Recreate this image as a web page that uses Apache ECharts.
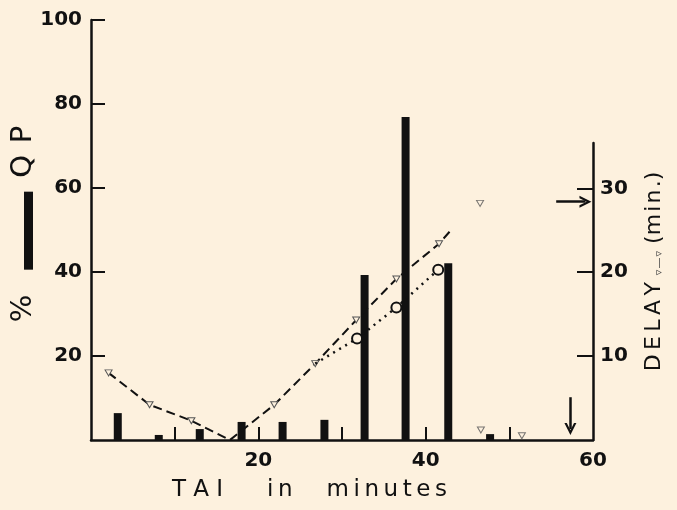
<!DOCTYPE html>
<html><head><meta charset="utf-8">
<script src="https://cdn.jsdelivr.net/npm/echarts@6/dist/echarts.min.js"></script>
<style>html,body{margin:0;padding:0;background:#FDF1DE;} #c{width:677px;height:510px;}</style>
</head><body><div id="c"></div>
<script>
// ---- data ----
const barMinutes   = [3.2, 8.1, 13.0, 18.0, 22.9, 27.9, 32.7, 37.6, 42.7, 47.7];
const barPercentQP = [6.4, 1.2, 2.6, 4.3, 4.3, 4.8, 39.3, 76.9, 42.1, 1.4];

const delayMinutes = [2.1, 7.0, 12.0, 16.6, 21.9, 26.8, 31.7, 36.5, 41.6, 43.1];
const delayValues  = [8.0, 4.2, 2.3, 0.0, 4.2, 9.1, 14.3, 19.2, 23.4, 25.1];
const delayMarked  = [true, true, true, false, true, true, true, true, true, false];

const looseMinutes = [46.5, 46.6, 51.5];
const looseDelay   = [28.2, 1.2, 0.5];

const circleMinutes = [26.8, 31.8, 36.5, 41.5];
const circleDelay   = [9.1, 12.1, 15.8, 20.3];
const circleMarked  = [false, true, true, true];

const leftTicks  = [20, 40, 60, 80, 100];
const rightTicks = [10, 20, 30];
const xLabels    = [20, 40, 60];
const xTicks     = [10, 20, 30, 40, 50];

const arrowHFrom = [55.6, 28.4], arrowHTo = [59.1, 28.4];
const arrowVFrom = [57.3, 5.1],  arrowVTo = [57.3, 1.3];

// ---- chart ----
const INK = '#111';
const BG = '#FDF1DE';
const TS = '\u2009', HS = '\u200A';
const numFont = { fontFamily: 'DejaVu Sans', fontWeight: 'bold', fontSize: 20, color: INK };
const chevron = 'path://M0,12 L6,0 L12,12 L9.6,12 L6,4.8 L2.4,12 Z';
const spaced = (s, sep) => s.split('').join(sep);

const chart = echarts.init(document.getElementById('c'), null, { renderer: 'canvas' });
chart.setOption({
  backgroundColor: BG,
  animation: false,
  grid: [
    { left: 91, right: 84, top: 20, bottom: 70, outerBoundsMode: 'none', containLabel: false },
    { left: 91, right: 84, top: 143, bottom: 70, outerBoundsMode: 'none', containLabel: false }
  ],
  xAxis: [
    {
      type: 'value', gridIndex: 0, min: 0, max: 60,
      axisLine: { onZero: false, lineStyle: { color: INK, width: 2.5 } },
      axisTick: { show: true, inside: true, length: 13, customValues: xTicks, lineStyle: { color: INK, width: 2 } },
      axisLabel: Object.assign({ customValues: xLabels, margin: 11 }, numFont),
      splitLine: { show: false },
      name: 'T A I      ' + spaced('in', TS) + '    ' + TS + spaced('minutes', TS),
      nameLocation: 'middle', nameGap: 39, nameMoveOverlap: false,
      nameTextStyle: { fontFamily: 'DejaVu Sans', fontSize: 23, color: INK, padding: [0, 65, 0, 0] }
    },
    { type: 'value', gridIndex: 1, min: 0, max: 60, show: false }
  ],
  yAxis: [
    {
      type: 'value', gridIndex: 0, min: 0, max: 100, position: 'left',
      axisLine: { show: true, onZero: false, lineStyle: { color: INK, width: 2.5 } },
      axisTick: { show: true, inside: true, length: 14, customValues: leftTicks, lineStyle: { color: INK, width: 2 } },
      axisLabel: Object.assign({ customValues: leftTicks, margin: 9 }, numFont),
      splitLine: { show: false },
      name: '{t|%}{g1|}{b|}{g2|}{t|Q' + TS + TS + 'P}',
      nameLocation: 'middle', nameRotate: 90, nameGap: 58, nameMoveOverlap: false,
      nameTextStyle: {
        padding: [0, 0, 0, 12],
        rich: {
          t: { fontFamily: 'DejaVu Sans', fontSize: 29, color: INK, lineHeight: 20 },
          g1: { width: 25, height: 9 },
          g2: { width: 14, height: 9 },
          b: { width: 78, height: 9, backgroundColor: INK, verticalAlign: 'bottom' }
        }
      }
    },
    {
      type: 'value', gridIndex: 1, min: 0, max: 35.4, position: 'right',
      axisLine: { show: true, onZero: false, lineStyle: { color: INK, width: 2.5 } },
      axisTick: { show: true, inside: true, length: 16, customValues: rightTicks, lineStyle: { color: INK, width: 2 } },
      axisLabel: Object.assign({ customValues: rightTicks, margin: 7 }, numFont),
      splitLine: { show: false },
      name: '{t|' + spaced('DELAY', TS) + ' }{s|\u25BF' + HS + '\u2014' + HS + '\u25BF}{t| (' + spaced('min.', HS) + ')}',
      nameLocation: 'middle', nameRotate: 90, nameGap: 50, nameMoveOverlap: false,
      nameTextStyle: {
        padding: [0, 0, 0, 40],
        rich: {
          t: { fontFamily: 'DejaVu Sans', fontSize: 22, color: INK },
          s: { fontFamily: 'DejaVu Sans', fontSize: 11, color: '#444', verticalAlign: 'bottom' }
        }
      }
    }
  ],
  series: [
    {
      type: 'custom', xAxisIndex: 0, yAxisIndex: 0,
      encode: { x: 0, y: 1 },
      data: barMinutes.map((m, i) => [m, barPercentQP[i]]),
      renderItem: function (params, api) {
        const top = api.coord([api.value(0), api.value(1)]);
        const base = api.coord([api.value(0), 0]);
        const w = 8;
        return {
          type: 'rect',
          shape: { x: top[0] - w / 2, y: top[1], width: w, height: base[1] - top[1] },
          style: { fill: INK }
        };
      },
      z: 3
    },
    {
      type: 'line', xAxisIndex: 1, yAxisIndex: 1,
      symbol: 'triangle', symbolRotate: 180, symbolSize: [7, 6],
      itemStyle: { color: BG, borderColor: '#555', borderWidth: 1 },
      lineStyle: { color: INK, width: 2, type: [9, 5] },
      data: delayMinutes.map((m, i) => delayMarked[i] ? [m, delayValues[i]] : { value: [m, delayValues[i]], symbol: 'none' }),
      z: 4
    },
    {
      type: 'line', xAxisIndex: 1, yAxisIndex: 1,
      symbol: 'circle', symbolSize: 10,
      itemStyle: { color: BG, borderColor: INK, borderWidth: 2 },
      lineStyle: { color: INK, width: 2.5, type: [2, 5] },
      data: circleMinutes.map((m, i) => circleMarked[i] ? [m, circleDelay[i]] : { value: [m, circleDelay[i]], symbol: 'none' }),
      z: 5
    },
    {
      type: 'scatter', xAxisIndex: 1, yAxisIndex: 1,
      symbol: 'triangle', symbolRotate: 180, symbolSize: [7, 6],
      itemStyle: { color: BG, borderColor: '#555', borderWidth: 1 },
      data: looseMinutes.map((m, i) => [m, looseDelay[i]]),
      z: 4,
      markLine: {
        silent: true, animation: false,
        symbol: ['none', chevron], symbolSize: 12,
        lineStyle: { color: INK, width: 2.5, type: 'solid' },
        label: { show: false },
        data: [
          [{ coord: arrowHFrom }, { coord: arrowHTo }],
          [{ coord: arrowVFrom }, { coord: arrowVTo }]
        ]
      }
    }
  ]
});
</script>
</body></html>
